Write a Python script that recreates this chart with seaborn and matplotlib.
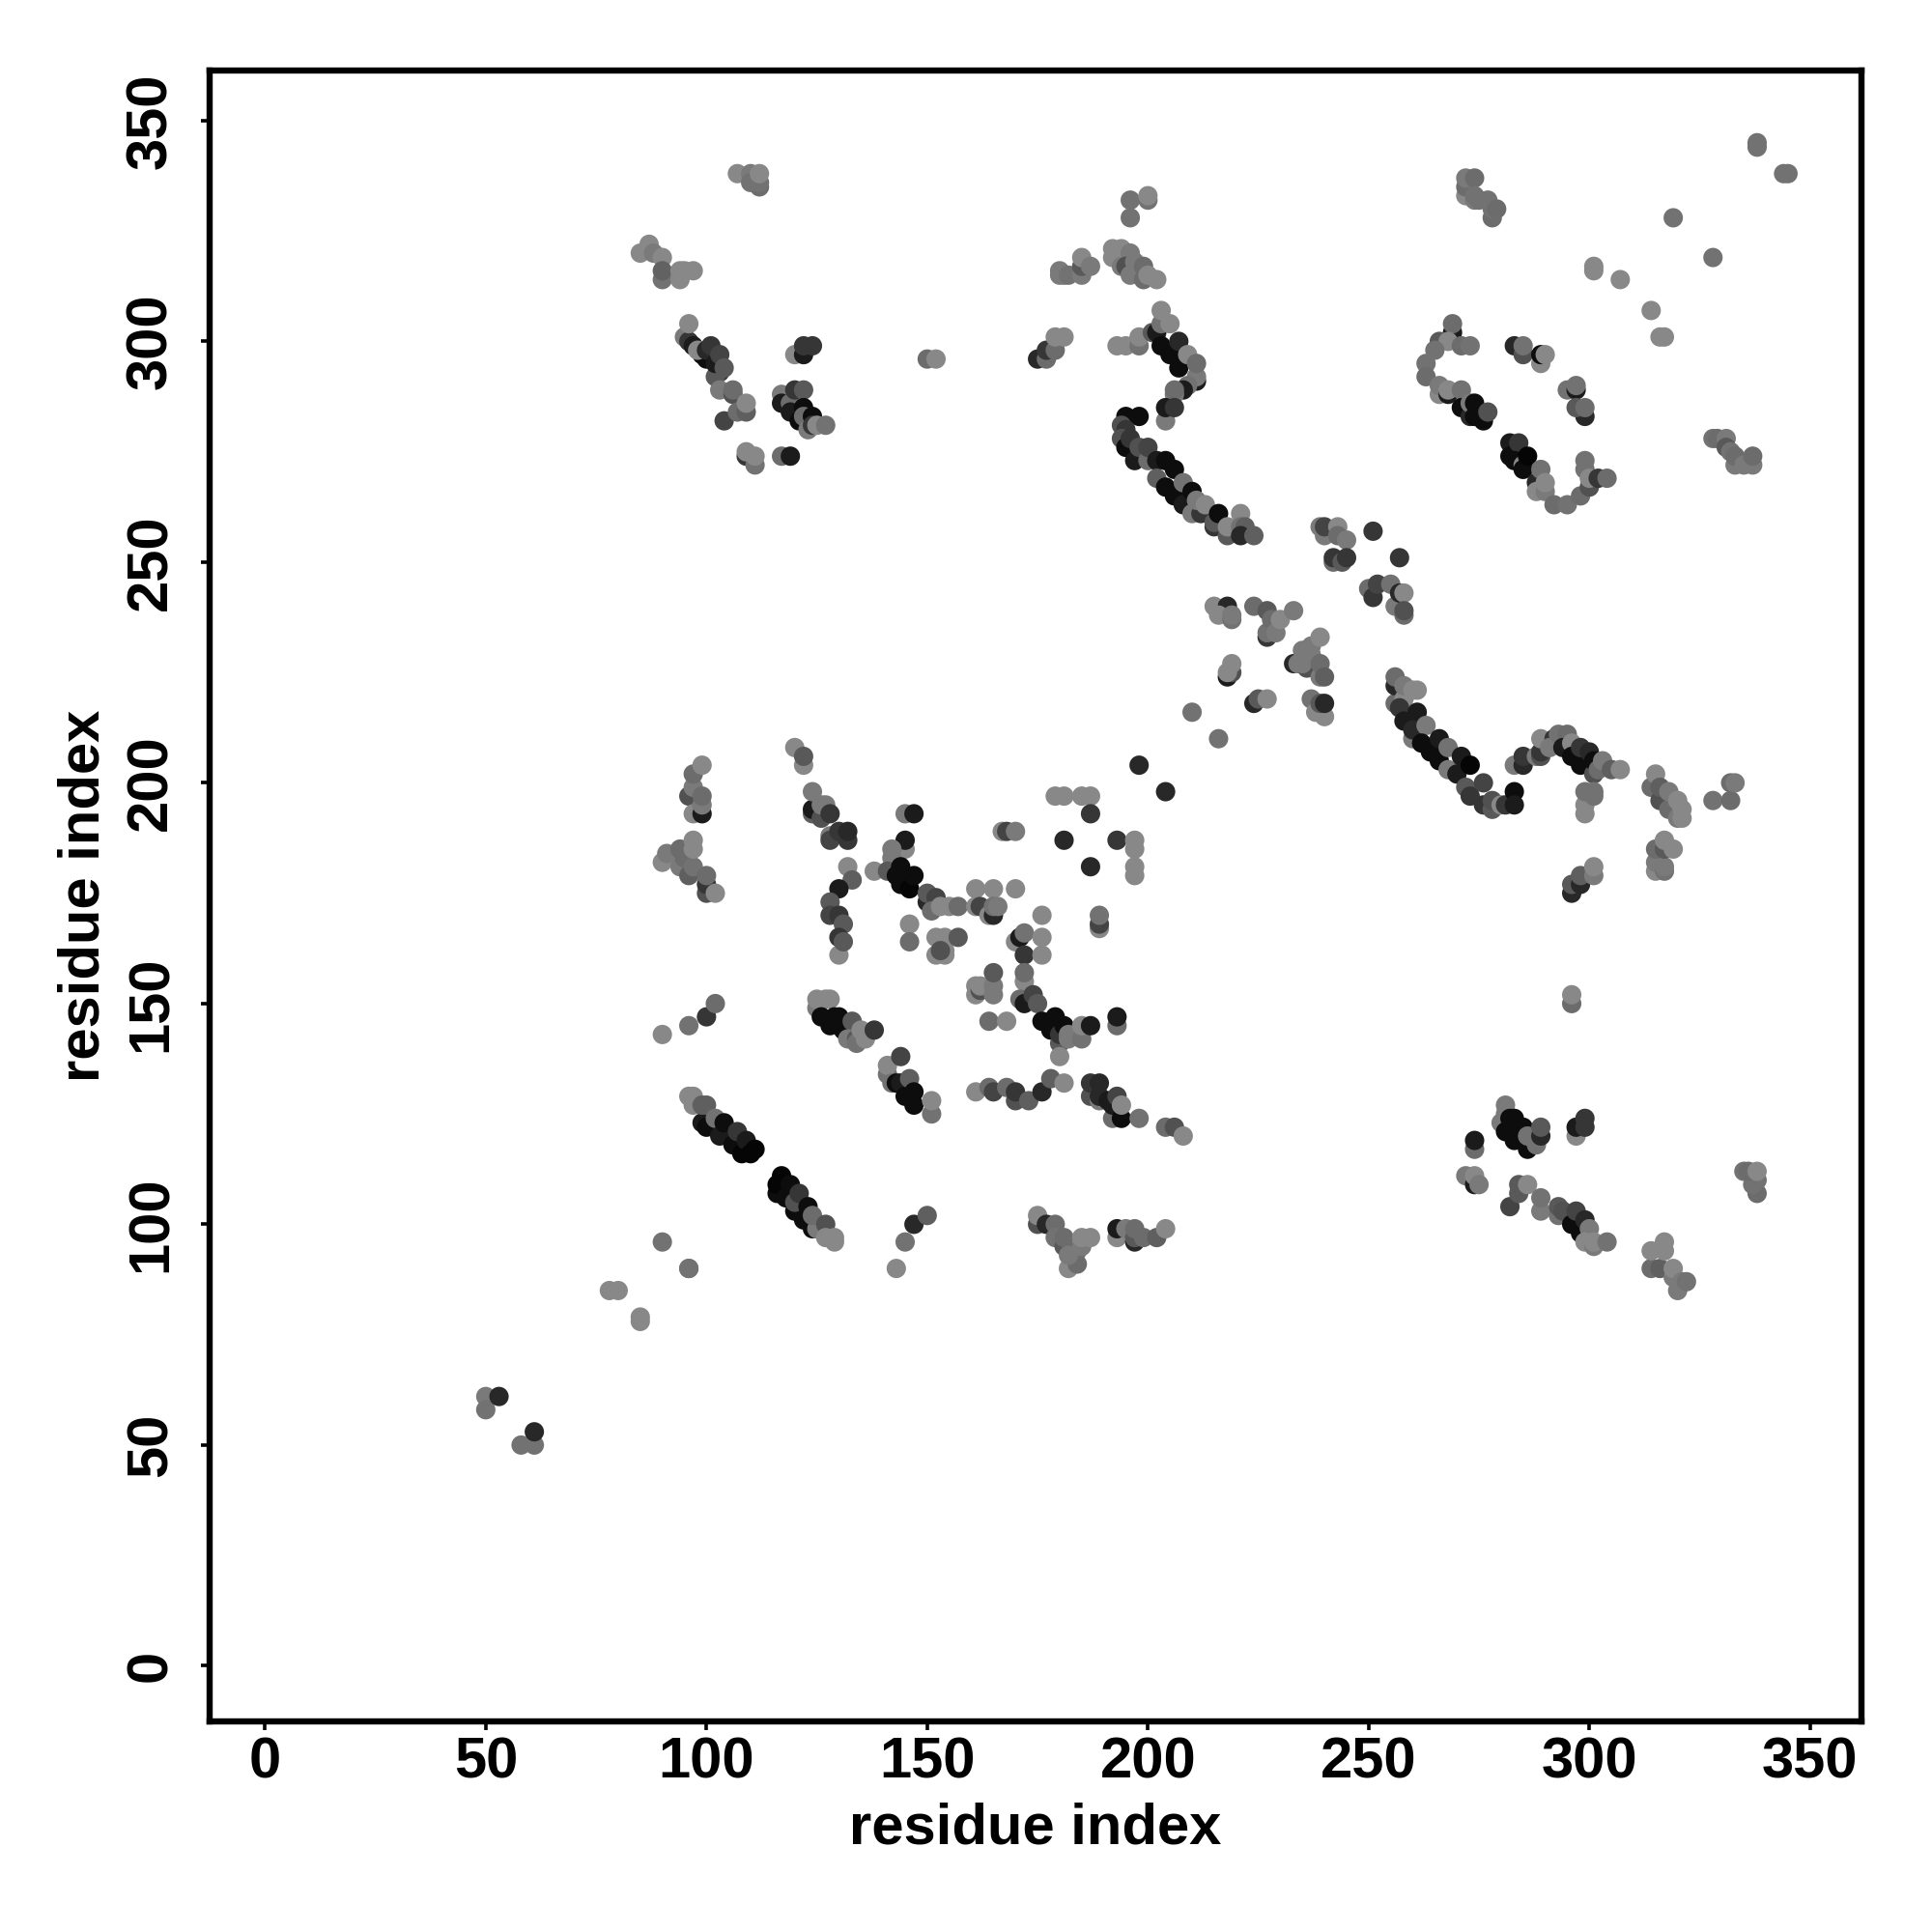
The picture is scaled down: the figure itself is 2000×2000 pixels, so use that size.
import pandas as pd
import seaborn as sns
import matplotlib.pyplot as plt

# contacts: (residue x, residue y, grey level)
low_left = [(50,61,.45),(50,58,.42),(53,61,.15),(58,50,.42),(61,50,.42),(61,53,.15),
    (78,85,.5),(80,85,.5),(85,79,.5),(85,78,.5),(90,96,.42),(96,90,.42)]

top_a = [(107,338,.5),(110,338,.45),(112,335,.4),(112,336,.42),(110,336,.42),(112,338,.5),
    (85,320,.5),(87,322,.5),(88,320,.45),(90,319,.5),(90,314,.42),(90,316,.36),(94,314,.5),(94,316,.5),(95,316,.5),(97,316,.5)]

top_b = [(95,301,.45),(96,300,.2),(97,299,.1),(99,297,.05),(100,296,.05),(98,298,.5),(100,298,.15),(101,299,.2),
    (103,293,.2),(102,292,.33),(102,295,.1),(103,297,.25),(104,294,.33),(96,304,.5),
    (103,289,.45),(106,288,.3),(106,289,.4),(104,282,.25),(107,284,.4),(109,284,.35),(109,286,.5),
    (109,274,.2),(111,272,.42),(109,275,.5),(111,274,.5),(117,274,.4),(119,274,.1),
    (120,297,.5),(122,297,.1),(122,299,.2),(124,299,.2),
    (117,288,.45),(117,286,.1),(119,286,.4),(119,284,.1),(121,282,.05),(120,289,.2),(122,289,.33),
    (122,285,.05),(122,283,.4),(123,280,.45),(124,283,.05),(124,281,.2),(125,281,.5),(127,281,.42),
    (150,296,.4),(152,296,.5)]

top_c = [(196,332,.42),(200,332,.42),(200,333,.5),(196,328,.42),
    (192,319,.5),(192,321,.5),(194,321,.5),(194,317,.45),(196,320,.45),(195,317,.3),(196,315,.45),(197,318,.45),(199,317,.4),(199,314,.4),(200,315,.5),(202,314,.5),
    (180,315,.45),(180,316,.45),(181,315,.45),(182,315,.42),(185,315,.45),(185,317,.33),(185,319,.5),(187,317,.45),
    (175,296,.15),(177,296,.4),(177,298,.2),(179,298,.4),(179,301,.5),(181,301,.5),
    (193,299,.5),(195,299,.5),(198,299,.42),(198,301,.5)]

arc_a = [(201,302,.33),(202,302,.1),(203,304,.42),(203,307,.5),(203,299,.05),(205,297,.05),(205,304,.5),(207,294,.05),(207,300,.15),(209,297,.5),
    (211,291,.1),(211,292,.45),(211,295,.4),(209,290,.42),(208,289,.1),(206,288,.45),(206,289,.4),(204,282,.45),(204,285,.1),(206,285,.2),
    (195,283,.05),(198,283,.05),(194,281,.3),(195,280,.2),(194,278,.3),(195,276,.05),(196,278,.2),(197,273,.1),(198,276,.3),(200,273,.4),(200,276,.25),
    (202,273,.1),(202,269,.35),(204,273,.05),(204,267,.05),(206,271,.05),(206,265,.05),(208,263,.1),(208,268,.42),(210,266,.05),
    (210,261,.45),(212,261,.2),(211,264,.45),(213,263,.5),(215,258,.2),(215,259,.33),(216,261,.05),(218,256,.33),(218,258,.5),
    (221,261,.5),(221,258,.42),(222,258,.35),(221,256,.15),(224,256,.35)]

mid_a = [(239,258,.45),(240,256,.45),(240,258,.25),(243,258,.5),(243,256,.4),(245,255,.45),(242,250,.4),(242,251,.2),(244,250,.33),(245,251,.2),
    (251,257,.2),(257,251,.2),(250,244,.4),(251,242,.2),(252,245,.25),(255,245,.42),(256,240,.45),(257,243,.15),(258,243,.5),(258,238,.4),(258,239,.3),
    (215,240,.5),(218,240,.15),(216,238,.5),(219,237,.42),(219,238,.45),
    (224,240,.4),(227,233,.2),(227,234,.42),(227,239,.33),(228,237,.4),(229,234,.45),(230,237,.5),(233,239,.45),
    (233,227,.15),(234,227,.45),(235,230,.45),(236,226,.3),(235,227,.45),(237,229,.45),(237,231,.45),(239,233,.5),(239,224,.45),(239,227,.4),(240,224,.35),
    (218,224,.1),(219,225,.3),(218,225,.5),(219,227,.5),(224,218,.15),(225,219,.33),(227,219,.5),
    (237,219,.42),(238,216,.5),(240,215,.5),(239,218,.33),(240,218,.15),(210,216,.42),(216,210,.42)]

arc_b = [(256,218,.4),(256,222,.15),(256,224,.4),(258,219,.5),(258,222,.45),(260,221,.5),(261,221,.5),(257,217,.2),(258,214,.1),(261,216,.1),
    (260,210,.45),(260,212,.15),(263,213,.45),(262,209,.05),(264,207,.05),(266,205,.05),(266,210,.1),(268,203,.45),(268,208,.42),(270,202,.1),
    (271,206,.1),(272,199,.33),(273,197,.2),(273,204,.02),(276,195,.2),(276,200,.25),(278,194,.33),(278,196,.3),(280,195,.5),(281,195,.2),(283,198,.05),(283,195,.1),
    (283,204,.45),(285,204,.15),(285,206,.2),(288,206,.45),(289,206,.3),(289,207,.2),(289,210,.5),(292,210,.2),(291,208,.45),(293,211,.42),(295,211,.4),
    (294,208,.1),(296,209,.5),(296,206,.05),(298,204,.05),(298,208,.2),(300,207,.15),(301,202,.3),(301,205,.05),(302,203,.4),(303,205,.45),(305,203,.35),(307,203,.5),
    (299,193,.5),(299,195,.5),(299,198,.42),(301,197,.42),(301,198,.42),
    (296,175,.15),(296,177,.33),(298,177,.15),(298,179,.35),(301,179,.45),(301,181,.5),(296,150,.4),(296,152,.5)]

right_a = [(314,199,.4),(315,202,.5),(316,196,.3),(316,199,.35),(318,194,.4),(318,198,.45),(320,192,.45),(320,196,.5),(321,192,.5),(321,194,.5),
    (328,196,.42),(332,196,.4),(332,200,.4),(333,200,.45),
    (315,180,.5),(315,182,.45),(315,185,.4),(317,180,.42),(317,181,.45),(317,185,.33),(317,187,.5),(319,185,.5)]

top_d = [(338,344,.42),(338,345,.42),(344,338,.42),(345,338,.42),(319,328,.42),(328,319,.42),(301,316,.5),(301,317,.5),(307,314,.5),(314,307,.5),(316,301,.5),(317,301,.5),
    (272,333,.5),(272,335,.4),(272,337,.45),(274,337,.4),(274,332,.45),(274,333,.42),(275,332,.42),(277,332,.42),(278,328,.4),(278,330,.42),(279,330,.4),
    (269,302,.1),(269,304,.4),(266,300,.33),(268,300,.5),(271,299,.4),(273,299,.42),(265,298,.42),(263,295,.42),(263,292,.4),
    (266,288,.5),(266,290,.45),(268,288,.1),(268,289,.5),(271,289,.42),(271,285,.05),(273,283,.15),(273,286,.45),(274,283,.05),(274,286,.05),(275,284,.05),(276,282,.05),(277,284,.3),
    (283,299,.15),(285,297,.3),(285,299,.42),(289,295,.5),(289,297,.05),(290,297,.5),
    (295,289,.42),(297,289,.1),(297,290,.42),(299,283,.15),(297,285,.33),(299,285,.4)]

loop_a = [(282,277,.1),(282,274,.05),(284,277,.2),(283,273,.05),(285,272,.5),(285,271,.05),(286,274,.02),(288,268,.15),(288,266,.5),(289,271,.42),(290,266,.45),(290,268,.5),
    (292,263,.4),(295,263,.42),(298,265,.4),(300,267,.3),(299,271,.42),(299,273,.42),(300,269,.5),(302,269,.2),(304,269,.4),
    (328,278,.42),(329,278,.4),(331,278,.45),(331,276,.33),(332,275,.42),(333,272,.45),(333,274,.4),(335,272,.45),(337,272,.45),(337,274,.4)]

upper_mid = [(96,197,.3),(97,193,.5),(97,199,.45),(97,202,.4),(99,193,.1),(99,195,.45),(99,197,.4),(99,204,.5),
    (90,182,.5),(91,184,.45),(94,181,.45),(94,185,.4),(95,183,.4),(96,179,.35),(97,181,.42),(97,185,.5),(97,187,.5),(100,175,.3),(100,177,.2),(100,179,.4),(102,175,.5),
    (120,208,.5),(122,204,.5),(122,206,.33),(124,193,.35),(124,194,.1),(124,198,.45),(126,192,.3),(126,195,.45),(127,195,.45),(128,193,.2),(128,188,.45),
    (128,187,.25),(130,189,.2),(132,187,.2),(132,189,.15),
    (132,181,.5),(133,178,.35),(130,176,.1),(128,173,.33),(128,170,.25),(130,170,.2),(131,168,.33),(130,161,.5),(130,165,.2),(131,164,.33),
    (145,193,.45),(147,193,.1),(145,185,.5),(145,187,.1),(142,183,.45),(142,185,.45),(138,180,.5),(141,180,.33),(143,179,.05),(144,177,.05),(144,181,.05),(146,176,.02),(147,179,.05),
    (150,173,.15),(150,175,.33),(152,174,.25),(151,171,.4),(153,172,.5),(155,172,.5),(157,172,.4),(146,168,.5),(146,164,.4),
    (152,161,.5),(152,165,.5),(154,161,.5),(154,165,.5),(154,162,.5),(153,162,.3),(157,165,.33),
    (161,176,.5),(165,176,.5),(170,176,.5),(167,189,.5),(168,189,.25),(170,189,.45),
    (161,172,.5),(162,172,.25),(164,170,.5),(165,170,.15),(165,172,.42),(166,172,.45),
    (161,152,.5),(161,154,.5),(162,153,.3),(162,154,.5),(165,152,.45),(165,154,.45),(165,157,.33),(164,146,.4),(168,146,.5)]

upper_mid_b = [(170,164,.5),(171,165,.1),(172,161,.2),(172,166,.42),(176,170,.5),(176,165,.5),(176,161,.5),
    (172,155,.5),(172,157,.4),(171,151,.4),(172,150,.1),(174,152,.25),(175,150,.33),(176,146,.05),(178,144,.05),(179,147,.05),(180,141,.33),(180,143,.2),(181,145,.05),
    (180,138,.5),(182,142,.45),(182,143,.45),(185,142,.42),(185,145,.5),(187,145,.1),(193,145,.4),(193,147,.1),
    (179,197,.5),(181,197,.5),(185,197,.5),(187,197,.5),(187,193,.2),(181,187,.15),(193,187,.2),(187,181,.15),(197,185,.5),(197,187,.5),(197,179,.5),(197,181,.5),
    (198,204,.15),(204,198,.15),(189,167,.5),(189,168,.25),(189,170,.42)]

diag_a = [(90,143,.5),(96,145,.42),(100,147,.2),(102,150,.4),
    (96,129,.5),(97,127,.5),(97,129,.5),(99,123,.1),(99,127,.35),(100,122,.05),(100,127,.35),(102,124,.42),(103,120,.1),(104,123,.05),(106,118,.05),(107,121,.2),(108,116,.02),(109,119,.1),(110,116,.02),(111,117,.02),
    (116,107,.05),(116,109,.02),(117,111,.02),(118,106,.05),(119,109,.05),(120,103,.05),(120,105,.3),(121,107,.2),(122,101,.05),(123,104,.05),(124,99,.05),(125,99,.45),(124,102,.4),(127,100,.3),(127,97,.5),(129,96,.5),(129,97,.5),
    (96,90,.42),(143,90,.5),(145,96,.42),(147,100,.15),(150,102,.35)]

diag_b = [(125,149,.45),(125,151,.5),(127,151,.5),(128,151,.5),(126,147,.05),(128,145,.05),(129,147,.05),(130,147,.05),(131,144,.05),(133,146,.33),(132,142,.45),(134,142,.33),(134,141,.42),(135,144,.5),(136,142,.5),(138,144,.2),
    (141,134,.42),(141,136,.5),(142,132,.42),(143,132,.05),(144,132,.1),(144,138,.25),(145,129,.05),(146,133,.35),(147,127,.05),(147,130,.05),(151,125,.42),(151,128,.5)]

low_mid = [(161,130,.5),(164,131,.4),(165,130,.25),(168,131,.4),(170,128,.3),(170,130,.2),(173,128,.35),(176,130,.15),(178,133,.35),(181,132,.5),
    (187,129,.3),(187,132,.2),(189,128,.45),(189,129,.15),(189,132,.15),(191,128,.1),(192,124,.4),(192,127,.1),(193,129,.25),(194,124,.05),(194,127,.5),(198,124,.42),
    (204,122,.4),(206,122,.3),(208,120,.5),
    (175,100,.3),(175,102,.5),(177,100,.15),(179,100,.4),(179,97,.42),(181,95,.33),(181,97,.4),(182,90,.5),(184,91,.4),(184,94,.4),(182,93,.45),(185,95,.45),(185,97,.5),(187,97,.5),
    (193,97,.5),(193,99,.1),(195,99,.45),(197,96,.15),(197,97,.33),(197,99,.4),(199,97,.4),(202,97,.35),(204,99,.5)]

low_right = [(280,123,.45),(281,125,.45),(281,127,.45),(282,124,.05),(283,124,.05),(281,121,.05),(283,119,.05),(285,122,.05),(286,117,.05),(286,120,.42),(288,118,.42),(289,120,.15),(289,122,.33),
    (297,120,.5),(297,122,.1),(299,122,.2),(299,124,.2),(274,117,.4),(274,119,.1),
    (272,111,.45),(274,109,.1),(274,111,.5),(275,109,.45),(282,104,.25),(284,107,.33),(284,109,.33),(286,109,.5),(289,103,.45),(289,106,.42),
    (293,102,.42),(293,104,.33),(294,103,.3),(296,100,.05),(297,103,.25),(298,98,.05),(299,101,.15),(300,99,.45),(299,96,.5),(301,95,.45),(301,96,.5),(304,96,.42),
    (314,90,.4),(316,90,.35),(314,94,.5),(317,94,.5),(317,96,.5),(319,88,.45),(319,90,.5),(320,85,.45),(321,87,.45),(322,87,.42),
    (338,107,.4),(337,109,.42),(338,110,.42),(335,112,.42),(336,112,.4),(338,112,.5)]

tick_vals = [0, 50, 100, 150, 200, 250, 300, 350]

regions = [low_left, top_a, top_b, top_c, arc_a, mid_a, arc_b, right_a, top_d, loop_a,
           upper_mid, upper_mid_b, diag_a, diag_b, low_mid, low_right]
contacts = pd.DataFrame([p for r in regions for p in r], columns=["i", "j", "grey"])

sns.set_style("white")
plt.rcParams["font.family"] = ["Liberation Sans", "DejaVu Sans"]
plt.rcParams["font.weight"] = "bold"
plt.rcParams["text.color"] = "black"
plt.rcParams["axes.labelcolor"] = "black"
plt.rcParams["xtick.color"] = "black"
plt.rcParams["ytick.color"] = "black"

fig = plt.figure(figsize=(10, 10), dpi=200)
ax = fig.add_axes([0.1084, 0.109, 0.855, 0.8546])

sns.scatterplot(data=contacts, x="i", y="j", hue="grey", palette="gray", hue_norm=(0, 0.94),
                s=52, linewidth=0, legend=False, ax=ax)

ax.set_xlim(-12.6, 361.6)
ax.set_ylim(-12.6, 361.4)
ax.set_xticks(tick_vals)
ax.set_yticks(tick_vals)
ax.tick_params(length=3.2, width=1.3, labelsize=21.5, bottom=True, left=True)
ax.tick_params(axis="x", pad=2.5)
ax.tick_params(axis="y", pad=8.5)
for lab in ax.get_yticklabels():
    lab.set_rotation(90)
    lab.set_va("center")
for s in ax.spines.values():
    s.set_linewidth(2.3)
    s.set_color("black")

ax.set_xlabel("residue index", fontsize=21.5, fontweight="bold", labelpad=4.5)
ax.set_ylabel("residue index", fontsize=21.5, fontweight="bold", labelpad=5.5)

fig.savefig("out.png", dpi=200)
